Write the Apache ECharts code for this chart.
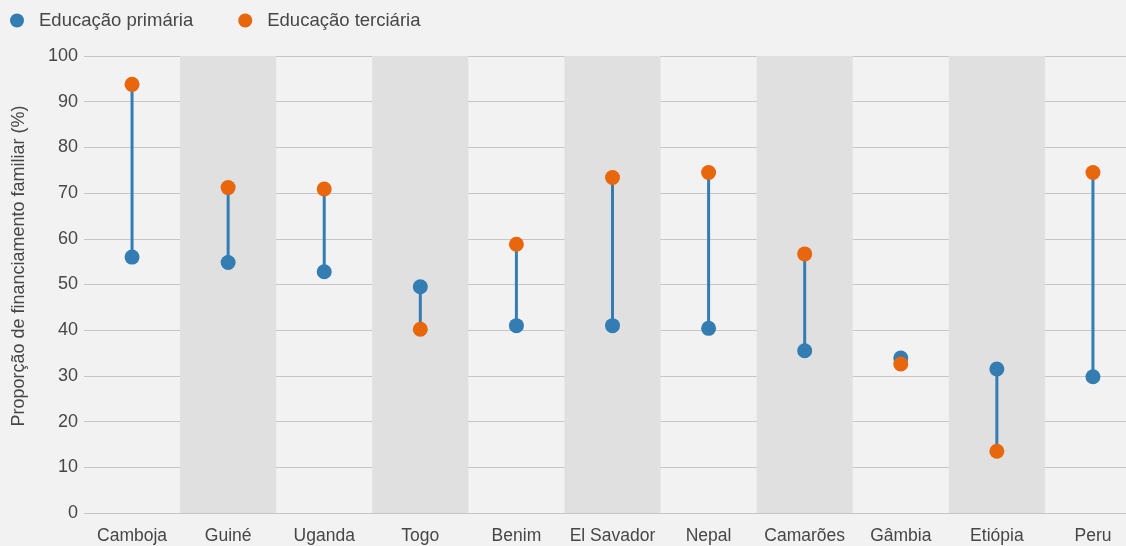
<!DOCTYPE html>
<html>
<head>
<meta charset="utf-8">
<script src="https://cdn.jsdelivr.net/npm/echarts@6/dist/echarts.min.js"></script>
<style>
  html, body { margin: 0; padding: 0; background: #f2f2f2; }
  #chart { width: 1126px; height: 546px; }
</style>
</head>
<body>
<div id="chart"></div>
<script>
// Countries along the horizontal axis
const countries = ['Camboja', 'Guiné', 'Uganda', 'Togo', 'Benim', 'El Savador', 'Nepal', 'Camarões', 'Gâmbia', 'Etiópia', 'Peru'];
// Share of household funding (%) by education level
const primaria = [56, 54.8, 52.8, 49.5, 41, 41, 40.4, 35.5, 33.9, 31.5, 29.8];
const terciaria = [93.8, 71.2, 70.9, 40.2, 58.8, 73.4, 74.5, 56.7, 32.6, 13.5, 74.5];
const yTicks = [0, 10, 20, 30, 40, 50, 60, 70, 80, 90, 100];

const BLUE = '#337db3';
const ORANGE = '#e8660c';
const TEXT = '#474747';
const FONT = '"Liberation Sans", Arial, sans-serif';

const chart = echarts.init(document.getElementById('chart'), null, { renderer: 'canvas' });

chart.setOption({
  backgroundColor: '#f2f2f2',
  animation: false,
  textStyle: { fontFamily: FONT },
  legend: {
    left: 10,
    top: 11,
    padding: 0,
    itemWidth: 14,
    itemHeight: 14,
    itemGap: 45,
    textStyle: { color: TEXT, fontSize: 18.5, fontFamily: FONT, padding: [0, 0, 0, 10] },
    data: [
      { name: 'Educação primária', icon: 'circle' },
      { name: 'Educação terciária', icon: 'circle' }
    ]
  },
  // plot runs past the right edge of the page, so the last band is clipped
  grid: { left: 84, width: 1057, top: 56, bottom: 33, containLabel: false, outerBoundsMode: 'none' },
  xAxis: {
    type: 'category',
    data: countries,
    boundaryGap: true,
    axisLine: { show: false },
    axisTick: { show: false },
    axisLabel: { color: TEXT, fontSize: 17.5, margin: 14, interval: 0, fontFamily: FONT },
    splitArea: { show: true, areaStyle: { color: ['rgba(0,0,0,0)', '#e0e0e0'] } }
  },
  yAxis: {
    type: 'value',
    min: yTicks[0],
    max: yTicks[yTicks.length - 1],
    interval: 10,
    axisLine: { show: false },
    axisTick: { show: false },
    axisLabel: { color: TEXT, fontSize: 18, margin: 6, fontFamily: FONT },
    splitLine: { lineStyle: { color: '#c6c6c6', width: 1.2 } }
  },
  graphic: [{
    type: 'text',
    x: 19,
    y: 266,
    rotation: Math.PI / 2,
    style: {
      text: 'Proporção de financiamento familiar (%)',
      fill: TEXT,
      font: '18px ' + FONT,
      align: 'center',
      verticalAlign: 'middle'
    }
  }],
  series: [
    {
      // connector between the two levels for each country
      type: 'custom',
      name: 'ligação',
      silent: true,
      data: countries.map((c, i) => [i, primaria[i], terciaria[i]]),
      encode: { x: 0, y: [1, 2] },
      renderItem: function (params, api) {
        const a = api.coord([api.value(0), api.value(1)]);
        const b = api.coord([api.value(0), api.value(2)]);
        return {
          type: 'line',
          shape: { x1: a[0], y1: a[1], x2: b[0], y2: b[1] },
          style: { stroke: BLUE, lineWidth: 3 }
        };
      },
      z: 1
    },
    {
      type: 'scatter',
      name: 'Educação primária',
      data: primaria,
      symbol: 'circle',
      symbolSize: 15,
      itemStyle: { color: BLUE, opacity: 1 },
      z: 2
    },
    {
      type: 'scatter',
      name: 'Educação terciária',
      data: terciaria,
      symbol: 'circle',
      symbolSize: 15,
      itemStyle: { color: ORANGE, opacity: 1 },
      z: 3
    }
  ]
});
</script>
</body>
</html>
